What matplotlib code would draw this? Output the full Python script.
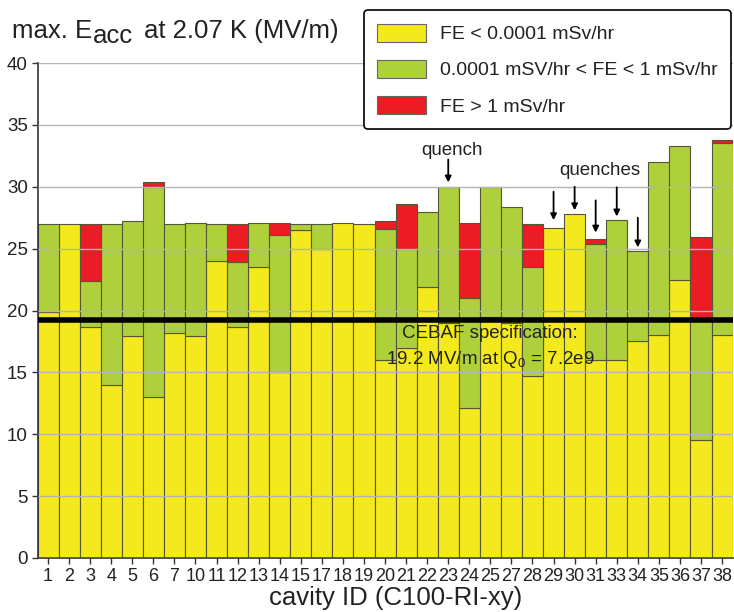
import matplotlib
matplotlib.use("Agg")
import matplotlib.pyplot as plt
from matplotlib.patches import Patch
import numpy as np

# ---------------- data ----------------
cavities = ["1", "2", "3", "4", "5", "6", "7", "10", "11", "12", "13", "14", "15",
            "17", "18", "19", "20", "21", "22", "23", "24", "25", "27", "28", "29",
            "30", "31", "33", "34", "35", "36", "37", "38"]
# top of the yellow (FE < 1e-4 mSv/hr) segment
yellow_top = [19.9, 27.0, 18.7, 14.0, 17.9, 13.0, 18.2, 17.9, 24.0, 18.7, 23.5, 15.0, 26.5,
              25.0, 27.1, 27.0, 16.0, 17.0, 21.9, 19.0, 12.1, 19.5, 19.0, 14.7, 26.7,
              27.8, 16.0, 16.0, 17.5, 18.0, 22.5, 9.5, 18.0]
# top of the green (1e-4 < FE < 1 mSv/hr) segment
green_top = [27.0, 27.0, 22.4, 27.0, 27.2, 30.0, 27.0, 27.1, 27.0, 23.9, 27.1, 26.1, 27.0,
             27.0, 27.1, 27.0, 26.6, 25.0, 28.0, 30.0, 21.0, 30.0, 28.4, 23.5, 26.7,
             27.8, 25.4, 27.3, 24.8, 32.0, 33.3, 19.2, 33.5]
# top of the red (FE > 1 mSv/hr) segment = max. Eacc
red_top = [27.0, 27.0, 27.0, 27.0, 27.2, 30.4, 27.0, 27.1, 27.0, 27.0, 27.1, 27.1, 27.0,
           27.0, 27.1, 27.0, 27.2, 28.6, 28.0, 30.0, 27.1, 30.0, 28.4, 27.0, 26.7,
           27.8, 25.8, 27.3, 24.8, 32.0, 33.3, 25.9, 33.8]

legend_labels = ["FE < 0.0001 mSv/hr", "0.0001 mSV/hr < FE < 1 mSv/hr", "FE > 1 mSv/hr"]
spec_value = 19.2
yticks = [0, 5, 10, 15, 20, 25, 30, 35, 40]

quench_single = ["23"]
quench_single_arrow = [(32.2, 30.35)]
quench_multi = ["29", "30", "31", "33", "34"]
quench_multi_arrows = [(29.6, 27.3), (30.0, 28.1), (28.9, 26.3), (29.95, 27.6), (27.5, 25.1)]

# ---------------- style ----------------
YEL = "#f3e91c"
GRN = "#aed03a"
RED = "#ec1c24"
EDGE = "#55553a"

plt.rcParams['font.family'] = ['Liberation Sans', 'DejaVu Sans']
plt.rcParams['mathtext.fontset'] = 'custom'
plt.rcParams['mathtext.rm'] = 'Liberation Sans'
plt.rcParams['mathtext.it'] = 'Liberation Sans:italic'

W, H = 734, 612
fig = plt.figure(figsize=(W / 100, H / 100), dpi=100)
ax = fig.add_axes([37.5 / W, 1 - 558 / H, (732.6 - 37.5) / W, (558 - 63) / H])

x = np.arange(len(cavities))
yt = np.array(yellow_top)
gt = np.array(green_top)
rt = np.array(red_top)

def draw(bottom, top, color):
    h = top - bottom
    m = h > 0.01
    ax.bar(x[m], h[m], bottom=bottom[m], width=1.0, color=color,
           edgecolor=EDGE, linewidth=0.8, zorder=1)

draw(np.zeros_like(yt), yt, YEL)
draw(yt, gt, GRN)
draw(gt, rt, RED)

ax.set_xlim(-0.5, len(cavities) - 0.5)
ax.set_ylim(0, 40)
ax.set_yticks(yticks)
ax.set_xticks(x)
ax.set_xticklabels(cavities, family=['Liberation Sans Narrow', 'Liberation Sans'],
                   fontsize=13, color='#222222')
for lab in ax.get_yticklabels():
    lab.set_fontsize(13.5)
    lab.set_color('#222222')
ax.tick_params(axis='both', direction='out', length=4, width=1, color='#333333', pad=3)

ax.yaxis.grid(True, color='#b4b4b4', linewidth=1.0, zorder=2.5)
ax.set_axisbelow(False)
for s in ['top', 'right']:
    ax.spines[s].set_visible(False)
for s in ['left', 'bottom']:
    ax.spines[s].set_color('#333333')
    ax.spines[s].set_linewidth(1.2)

# spec line
ax.axhline(spec_value, color='black', linewidth=4.0, zorder=4)
ax.text(21.0, 18.15, "CEBAF specification:", ha='center', va='center', fontsize=13.5,
        color='#222222', zorder=5)
ax.text(21.0, 16.0, r"19.2 MV/m at $\mathrm{Q_0}$ = 7.2e9", ha='center', va='center',
        fontsize=13.5, color='#222222', zorder=5)

# quench annotations
arrow_kw = dict(arrowstyle='-|>', color='black', lw=1.3, mutation_scale=9,
                shrinkA=0, shrinkB=0)
for cav, (y0, y1) in zip(quench_single, quench_single_arrow):
    i = cavities.index(cav)
    ax.annotate('', xy=(i, y1), xytext=(i, y0), arrowprops=arrow_kw, zorder=5)
    ax.text(i + 0.2, 32.9, "quench", ha='center', va='center', fontsize=13.5, color='#222222')
for cav, (y0, y1) in zip(quench_multi, quench_multi_arrows):
    i = cavities.index(cav)
    ax.annotate('', xy=(i, y1), xytext=(i, y0), arrowprops=arrow_kw, zorder=5)
ax.text(26.2, 31.3, "quenches", ha='center', va='center', fontsize=13.5, color='#222222')

# legend
handles = [Patch(facecolor=c, edgecolor='#666666', linewidth=0.8) for c in (YEL, GRN, RED)]
leg = fig.legend(handles, legend_labels, loc='upper right',
                 bbox_to_anchor=(731 / W, 1 - 10 / H), fontsize=14, frameon=True,
                 fancybox=True, framealpha=1, edgecolor='black', borderaxespad=0,
                 handlelength=2.5, handleheight=1.05, handletextpad=0.7,
                 labelspacing=0.85, borderpad=0.7)
leg.get_frame().set_linewidth(1.2)
for t in leg.get_texts():
    t.set_color('#222222')

# title built from pieces (subscript kept at same size, lowered)
fig.canvas.draw()
r = fig.canvas.get_renderer()
fs_title = 18.5
base_y = 1 - 38 / H
t1 = fig.text(12 / W, base_y, "max. E", fontsize=fs_title, va='baseline', color='#222222')
bb = t1.get_window_extent(r)
t2 = fig.text(bb.x1 / W + 1 / W, base_y - 5 / H, "acc", fontsize=fs_title, va='baseline',
              color='#222222')
bb2 = t2.get_window_extent(r)
fig.text(bb2.x1 / W + 11 / W, base_y, "at 2.07 K (MV/m)", fontsize=fs_title,
         va='baseline', color='#222222')

# x label
fig.text(396 / W, 1 - 598 / H, "cavity ID (C100-RI-xy)", ha='center', va='center',
         fontsize=18.5, color='#222222')

fig.savefig("out.png", dpi=100)
